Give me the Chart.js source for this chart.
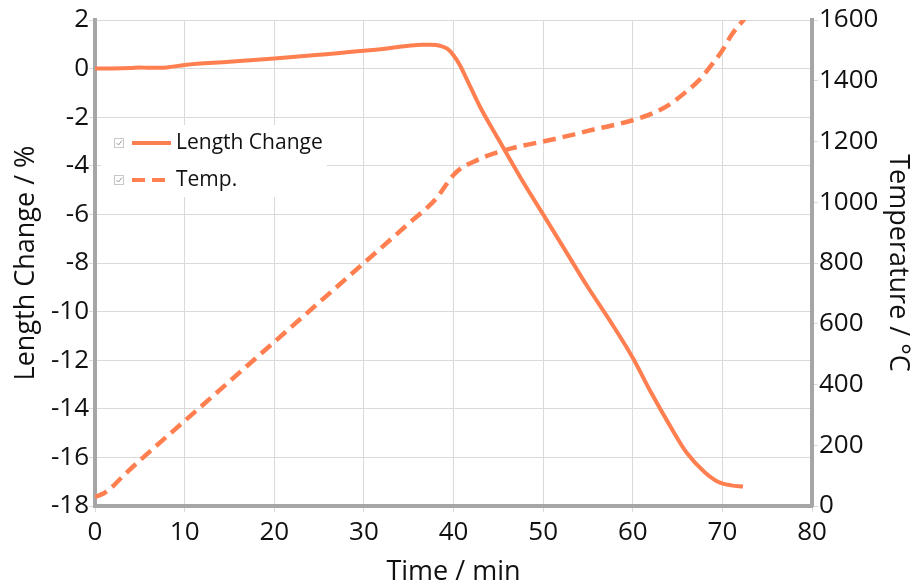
<!DOCTYPE html>
<html>
<head>
<meta charset="utf-8">
<script src="https://cdn.jsdelivr.net/npm/chart.js@4"></script>
<style>
  body { margin: 0; background: #fff; }
  #wrap { width: 914px; height: 585px; }
</style>
</head>
<body>
<div id="wrap"><canvas id="chart" width="914" height="585"></canvas></div>
<script>
// length change (solid, left axis)
const lenTime = [0, 2, 4, 5, 6, 8, 10, 15, 20, 25, 30, 33, 35, 36.5, 37.5, 38.5, 39.3, 40, 40.7, 41.5, 43, 45, 47.5, 50, 52.5, 55, 57.5, 60, 62, 64, 66, 68, 69.5, 71, 72.3];
const lenChange = [0, 0, 0.02, 0.05, 0.03, 0.05, 0.15, 0.28, 0.42, 0.57, 0.73, 0.85, 0.94, 0.98, 0.98, 0.94, 0.82, 0.55, 0.15, -0.45, -1.6, -2.9, -4.5, -6.0, -7.5, -9.0, -10.4, -11.9, -13.3, -14.6, -15.8, -16.6, -17.0, -17.15, -17.2];

// temperature (dashed, right axis)
const tempTime = [0, 1, 2, 3, 5, 10, 15, 20, 25, 30, 35, 38, 40, 41, 42, 43.5, 45, 47.5, 50, 53, 55, 58, 60, 62, 64, 66, 67.5, 69, 70, 71, 72.5];
const temp = [30, 42, 65, 95, 150, 280, 410, 540, 670, 800, 930, 1010, 1090, 1115, 1130, 1150, 1165, 1185, 1200, 1220, 1235, 1255, 1270, 1290, 1320, 1365, 1405, 1460, 1500, 1550, 1605];

const xTicks = [0, 10, 20, 30, 40, 50, 60, 70, 80];
const leftTicks = [2, 0, -2, -4, -6, -8, -10, -12, -14, -16, -18];
const rightTicks = [0, 200, 400, 600, 800, 1000, 1200, 1400, 1600];

const lineColor = "#ff7f50";
const axisGray = "#a6a6a6";
const gridGray = "#dadada";
const font = "'Open Sans', 'Noto Sans', sans-serif";

const lenData = lenTime.map((t, i) => ({ x: t, y: lenChange[i] }));
const tempData = tempTime.map((t, i) => ({ x: t, y: temp[i] }));

// legend drawn inside plot, with little checkbox icons
const innerLegend = {
  id: "innerLegend",
  afterDraw(chart) {
    const ctx = chart.ctx;
    const a = chart.chartArea;
    const x0 = a.left + 6;
    const y0 = a.top + 105;
    ctx.save();
    ctx.fillStyle = "#fff";
    ctx.fillRect(x0, y0, 226, 72);
    const rows = [
      { label: "Length Change", dash: [], y: y0 + 18 },
      { label: "Temp.", dash: [13, 7], y: y0 + 55 },
    ];
    rows.forEach((r) => {
      // checkbox
      ctx.strokeStyle = "#c8c8c8";
      ctx.lineWidth = 1;
      ctx.setLineDash([]);
      ctx.strokeRect(x0 + 13.5, r.y - 4.5, 9, 9);
      ctx.strokeStyle = "#9a9a9a";
      ctx.beginPath();
      ctx.moveTo(x0 + 15.5, r.y);
      ctx.lineTo(x0 + 17.5, r.y + 2);
      ctx.lineTo(x0 + 21, r.y - 2.5);
      ctx.stroke();
      // sample line
      ctx.strokeStyle = lineColor;
      ctx.lineWidth = 4;
      ctx.setLineDash(r.dash);
      ctx.beginPath();
      ctx.moveTo(x0 + 31, r.y);
      ctx.lineTo(x0 + 70, r.y);
      ctx.stroke();
      ctx.setLineDash([]);
      ctx.fillStyle = "#111";
      ctx.font = "21px " + font;
      ctx.textBaseline = "middle";
      ctx.fillText(r.label, x0 + 75, r.y);
    });
    ctx.restore();
  },
};

const tickFont = { family: font, size: 26 };
const titleFont = { family: font, size: 27 };

new Chart(document.getElementById("chart"), {
  type: "line",
  data: {
    datasets: [
      {
        label: "Length Change",
        data: lenData,
        yAxisID: "y",
        borderColor: lineColor,
        borderWidth: 4,
        pointRadius: 0,
        cubicInterpolationMode: "monotone",
      },
      {
        label: "Temp.",
        data: tempData,
        yAxisID: "y1",
        borderColor: lineColor,
        borderWidth: 4.5,
        borderDash: [13, 7],
        pointRadius: 0,
        cubicInterpolationMode: "monotone",
      },
    ],
  },
  options: {
    responsive: false,
    animation: false,
    layout: { padding: { top: 20, left: 0, right: 0, bottom: 0 } },
    plugins: { legend: { display: false }, tooltip: { enabled: false } },
    scales: {
      x: {
        type: "linear",
        min: 0,
        max: 80,
        afterBuildTicks: (s) => { s.ticks = xTicks.map((v) => ({ value: v })); },
        afterFit: (s) => { s.height = 79; },
        border: { color: axisGray, width: 4 },
        grid: { color: gridGray, lineWidth: 1, tickLength: 6 },
        ticks: { color: "#111", font: tickFont, padding: 5, maxRotation: 0 },
        title: { display: true, text: "Time / min", color: "#111", font: titleFont, padding: { top: 0, bottom: -4 } },
      },
      y: {
        position: "left",
        min: -18,
        max: 2,
        afterBuildTicks: (s) => { s.ticks = leftTicks.map((v) => ({ value: v })); },
        afterFit: (s) => { s.width = 95; },
        border: { color: axisGray, width: 4 },
        grid: { color: gridGray, lineWidth: 1, tickLength: 6 },
        ticks: { color: "#111", font: tickFont, padding: 0 },
        title: { display: true, text: "Length Change / %", color: "#111", font: titleFont, padding: { top: 10, bottom: 0 } },
      },
      y1: {
        position: "right",
        min: 0,
        max: 1600,
        afterBuildTicks: (s) => { s.ticks = rightTicks.map((v) => ({ value: v })); },
        afterFit: (s) => { s.width = 102; },
        border: { color: axisGray, width: 4 },
        grid: { drawOnChartArea: false, color: gridGray, tickLength: 6 },
        ticks: { color: "#111", font: tickFont, padding: 1, callback: (v) => String(v) },
        title: { display: true, text: "Temperature / °C", color: "#111", font: titleFont, padding: { top: 0, bottom: 0 } },
      },
    },
  },
  plugins: [innerLegend],
});
</script>
</body>
</html>
